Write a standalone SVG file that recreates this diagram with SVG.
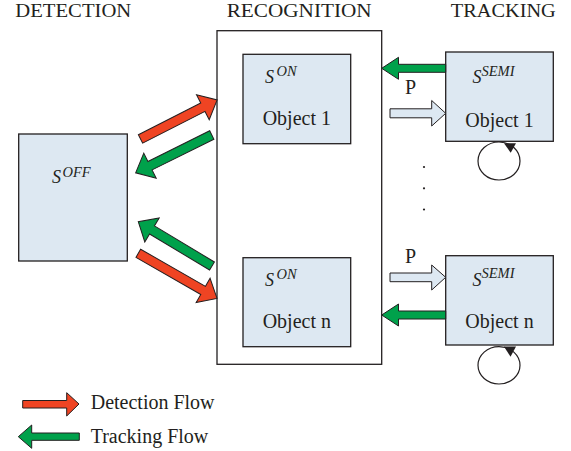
<svg xmlns="http://www.w3.org/2000/svg" width="571" height="451" viewBox="0 0 571 451" font-family="'Liberation Serif', 'DejaVu Serif', serif">
<style>
text{font-family:'Liberation Serif','DejaVu Serif',serif;fill:#231f20}
.h{font-size:19px}
.o{font-size:20px}
.s{font-size:18px;font-style:italic}
.sup{font-size:14.5px;font-style:italic}
.box{fill:#dde8f2;stroke:#231f20;stroke-width:1.3}
.red{fill:#ef4423;stroke:#231f20;stroke-width:1}
.grn{fill:#00a14b;stroke:#231f20;stroke-width:1}
.pa{fill:#dde8f2;stroke:#231f20;stroke-width:1}
.loop{fill:none;stroke:#231f20;stroke-width:1.2}
</style>
<rect width="571" height="451" fill="#fff"/>
<g id="headings">
<text class="h" x="73.3" y="16.7" text-anchor="middle" textLength="116" lengthAdjust="spacingAndGlyphs">DETECTION</text>
<text class="h" x="299.2" y="16.7" text-anchor="middle" textLength="145" lengthAdjust="spacingAndGlyphs">RECOGNITION</text>
<text class="h" x="503.3" y="16.7" text-anchor="middle" textLength="105" lengthAdjust="spacingAndGlyphs">TRACKING</text>
</g>
<g id="recognition">
<rect x="217" y="30.7" width="164.7" height="333.6" fill="#fff" stroke="#231f20" stroke-width="1.3"/>
</g>
<g id="soff">
<rect class="box" x="18.7" y="134" width="108.6" height="127"/>
<text class="s" x="52" y="183">S</text><text class="sup" x="62.5" y="176.5">OFF</text>
</g>
<g id="son1">
<rect class="box" x="243" y="54.3" width="107.7" height="89.4"/>
<text class="s" x="265" y="82.5">S</text><text class="sup" x="276.5" y="75.7">ON</text>
<text class="o" x="296.8" y="125" text-anchor="middle">Object 1</text>
</g>
<g id="sonn">
<rect class="box" x="243" y="257.7" width="107.7" height="89"/>
<text class="s" x="265" y="285.5">S</text><text class="sup" x="276.5" y="278.7">ON</text>
<text class="o" x="296.8" y="327.5" text-anchor="middle">Object n</text>
</g>
<g id="ssemi1">
<rect class="box" x="445.7" y="52" width="107.6" height="89.3"/>
<text class="s" x="472.5" y="83.3">S</text><text class="sup" x="481.5" y="76">SEMI</text>
<text class="o" x="499.5" y="127.3" text-anchor="middle">Object 1</text>
</g>
<g id="ssemin">
<rect class="box" x="445.7" y="255.7" width="107.6" height="89.3"/>
<text class="s" x="472.5" y="285.5">S</text><text class="sup" x="481.5" y="278.2">SEMI</text>
<text class="o" x="499.5" y="327.5" text-anchor="middle">Object n</text>
</g>
<g id="connectors">
<polygon class="red" transform="translate(140.5,139) rotate(-27)" points="0,-4.7 70,-4.7 70,-14 86,0 70,14 70,4.7 0,4.7"/>
<polygon class="grn" transform="translate(211.8,135) rotate(153.6)" points="0,-4.7 69,-4.7 69,-14 85,0 69,14 69,4.7 0,4.7"/>
<polygon class="grn" transform="translate(212,266) rotate(-149)" points="0,-4.7 70,-4.7 70,-14 86,0 70,14 70,4.7 0,4.7"/>
<polygon class="red" transform="translate(138.3,253.3) rotate(29.8)" points="0,-4.7 74.7,-4.7 74.7,-14 90.7,0 74.7,14 74.7,4.7 0,4.7"/>
<polygon class="grn" points="445.7,64.3 398.5,64.3 398.5,57.3 381.7,68.3 398.5,79.3 398.5,72.3 445.7,72.3"/>
<polygon class="grn" points="445.7,311 398.5,311 398.5,304 381.7,315 398.5,326 398.5,319 445.7,319"/>
<polygon class="pa" points="390,108.8 431.7,108.8 431.7,100.5 445.7,113.3 431.7,126 431.7,117.8 390,117.8"/>
<text class="o" x="405" y="94">P</text>
<polygon class="pa" points="390,273 431.7,273 431.7,265 445.7,277.3 431.7,290 431.7,281.7 390,281.7"/>
<text class="o" x="405" y="262.7">P</text>
<ellipse class="loop" cx="499" cy="161" rx="21" ry="19"/>
<polygon points="504,143.3 516,143.3 510.7,152.7" fill="#231f20"/>
<ellipse class="loop" cx="499" cy="365.3" rx="21" ry="18.7"/>
<polygon points="504,346.5 516,346.5 510.5,356.7" fill="#231f20"/>
<circle cx="424" cy="167" r="1.1" fill="#231f20"/>
<circle cx="424" cy="188.3" r="1.1" fill="#231f20"/>
<circle cx="424" cy="209.5" r="1.1" fill="#231f20"/>
</g>
<g id="legend">
<polygon class="red" points="22.7,400.5 66.7,400.5 66.7,392.7 79,404 66.7,416 66.7,408 22.7,408"/>
<text class="o" x="90.7" y="409.3">Detection Flow</text>
<polygon class="grn" points="79.3,433 31.7,433 31.7,425 18.3,436.7 31.7,448.3 31.7,440.3 79.3,440.3"/>
<text class="o" x="90.7" y="442.7">Tracking Flow</text>
</g>
</svg>
